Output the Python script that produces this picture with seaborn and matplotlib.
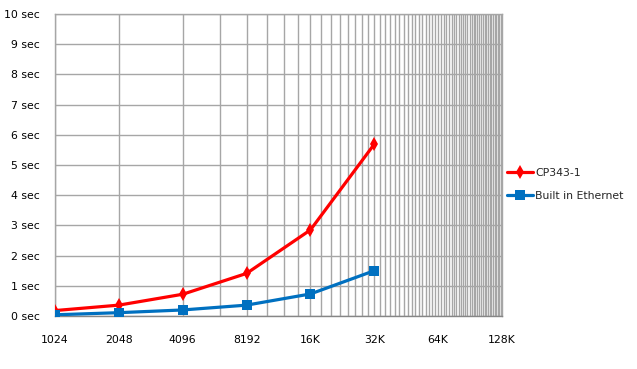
import seaborn as sns
import matplotlib.pyplot as plt
import matplotlib.ticker as mticker
import pandas as pd
import numpy as np

# data
sizes = [1024, 2048, 4096, 8192, 16384, 32768]
cp343 = [0.18, 0.36, 0.72, 1.41, 2.85, 5.69]
builtin = [0.04, 0.11, 0.20, 0.36, 0.73, 1.50]
series_names = ["CP343-1", "Built in Ethernet"]
x_ticks = [1024, 2048, 4096, 8192, 16384, 32768, 65536, 131072]
x_labels = ["1024", "2048", "4096", "8192", "16K", "32K", "64K", "128K"]
y_ticks = list(range(0, 11))

sns.set_theme(style='white')
plt.rcParams['font.family'] = ['DejaVu Sans']

df = pd.concat([
    pd.DataFrame({'size': sizes, 'time': cp343, 'serie': series_names[0]}),
    pd.DataFrame({'size': sizes, 'time': builtin, 'serie': series_names[1]}),
])

fig = plt.figure(figsize=(6.37, 3.69), dpi=100)
ax = fig.add_axes([55/637, 53/369, 447/637, 302/369])

colors = {series_names[0]: '#FF0000', series_names[1]: '#0070C0'}
markers = {series_names[0]: 'd', series_names[1]: 's'}
sns.lineplot(data=df, x='size', y='time', hue='serie', style='serie',
             palette=colors, markers=markers, dashes=False, linewidth=2.3,
             markersize=7, markeredgewidth=0, ax=ax, zorder=3)

ax.set_xscale('log', base=2)
ax.set_xlim(1024, 131072)
ax.set_ylim(0, 10)
ax.set_xticks(x_ticks)
ax.set_xticklabels(x_labels)
minor = [v for v in range(2048, 131072, 2048) if v not in x_ticks]
ax.xaxis.set_minor_locator(mticker.FixedLocator(minor))
ax.xaxis.set_minor_formatter(mticker.NullFormatter())
ax.set_yticks(y_ticks)
ax.set_yticklabels([f'{v} sec' for v in y_ticks])

ax.grid(True, which='major', color='#A6A6A6', linewidth=1)
ax.grid(True, which='minor', axis='x', color='#A6A6A6', linewidth=1)
ax.set_axisbelow(True)
ax.tick_params(axis='both', which='both', length=0, labelsize=7.8, colors='black')
ax.tick_params(axis='x', pad=14)
ax.tick_params(axis='y', pad=11)
for s in ax.spines.values():
    s.set_color('#A6A6A6')
    s.set_linewidth(1)
ax.spines['bottom'].set_color('#868686')
ax.set_xlabel('')
ax.set_ylabel('')

handles, labels = ax.get_legend_handles_labels()
ax.legend(handles, labels, loc='center left', bbox_to_anchor=(503/637, 185/369),
          bbox_transform=fig.transFigure, frameon=False, fontsize=7.8,
          handlelength=2.4, handletextpad=0.2, labelspacing=1.2, borderaxespad=0)

fig.savefig('out.png', dpi=100)
